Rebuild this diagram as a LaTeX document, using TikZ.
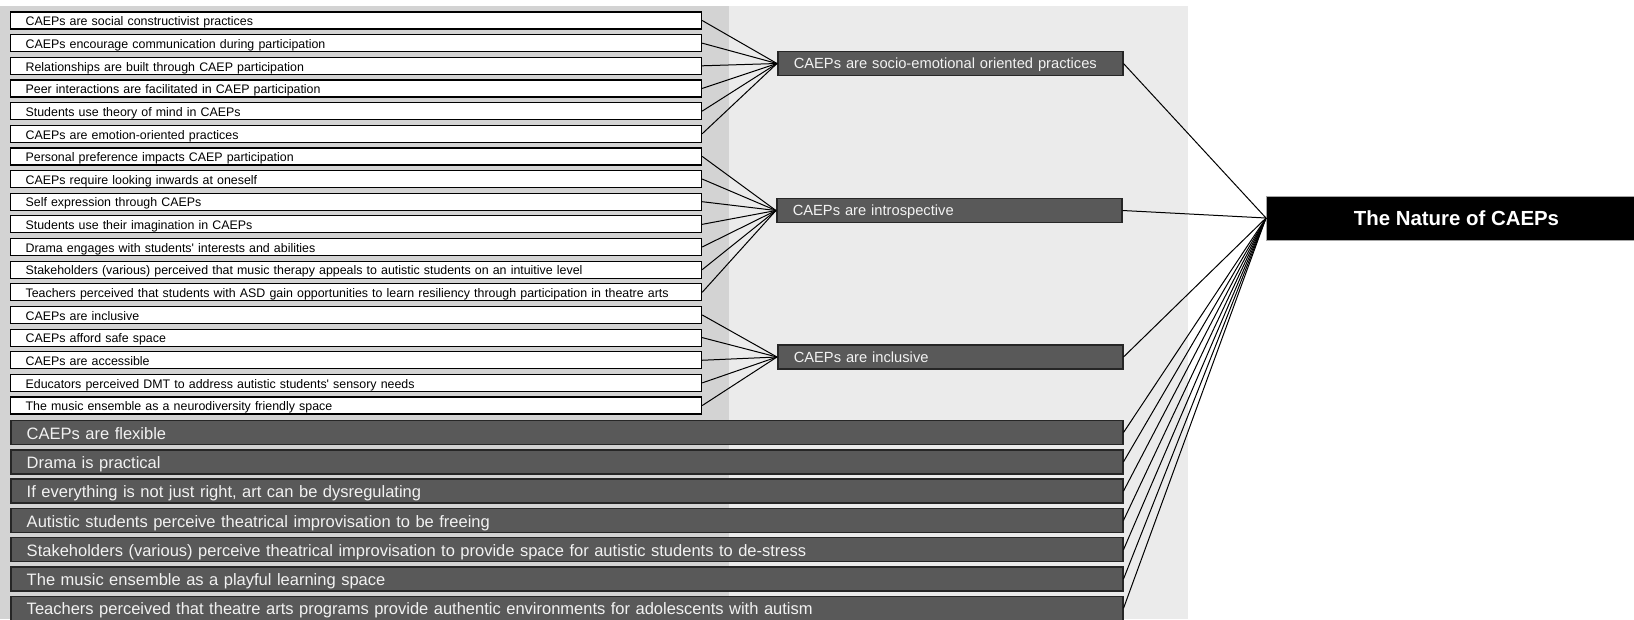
\documentclass[tikz,border=0pt]{standalone}
\usepackage{fontspec}
\setmainfont{Liberation Sans}
\usepackage{tikz}
\definecolor{panelgray}{HTML}{EBEBEB}
\definecolor{codegray}{HTML}{D3D3D3}
\definecolor{themefill}{HTML}{595959}
\definecolor{themeborder}{HTML}{262626}
\definecolor{themetext}{HTML}{F2F2F2}

\begin{document}
\begin{tikzpicture}[x=1pt,y=-1pt,
    codebox/.style={draw=black,fill=white,line width=1.2pt,anchor=west,
      inner xsep=15pt,inner ysep=0pt,text width=661pt,minimum height=17pt,
      text height=10.5pt,text depth=0pt,align=left,font=\fontsize{12.4}{13}\selectfont},
    themebox/.style={draw=themeborder,fill=themefill,line width=1.5pt,anchor=west,
      inner xsep=16pt,inner ysep=0pt,minimum height=24pt,text depth=0pt,align=left,text=themetext},
    link/.style={line width=1pt}]
    \useasboundingbox (0,0) rectangle (1634,619);
    % background panels
    \fill[panelgray] (0,6) rectangle (1188,619);
    \fill[codegray] (0,6) rectangle (729,619);

    % codes
    \foreach \txt [count=\i] in {
      CAEPs are social constructivist practices,
      CAEPs encourage communication during participation,
      Relationships are built through CAEP participation,
      Peer interactions are facilitated in CAEP participation,
      Students use theory of mind in CAEPs,
      CAEPs are emotion-oriented practices,
      Personal preference impacts CAEP participation,
      CAEPs require looking inwards at oneself,
      Self expression through CAEPs,
      Students use their imagination in CAEPs,
      Drama engages with students\textquotesingle{} interests and abilities,
      Stakeholders (various) perceived that music therapy appeals to autistic students on an intuitive level,
      Teachers perceived that students with ASD gain opportunities to learn resiliency through participation in theatre arts,
      CAEPs are inclusive,
      CAEPs afford safe space,
      CAEPs are accessible,
      Educators perceived DMT to address autistic students\textquotesingle{} sensory needs,
      The music ensemble as a neurodiversity friendly space}
      \node[codebox] (s\i) at (10,{20.5+22.65*(\i-1)}) {\txt};

    % sub-themes
    \node[themebox,text width=313pt,text height=10.5pt,font=\fontsize{14.7}{17}\selectfont] (socio) at (777,63.5) {CAEPs are socio-emotional oriented practices};
    \node[themebox,text width=313pt,text height=10.5pt,font=\fontsize{14.7}{17}\selectfont] (intro) at (776,210.5) {CAEPs are introspective};
    \node[themebox,text width=313pt,text height=10.5pt,font=\fontsize{14.7}{17}\selectfont] (incl) at (777,357) {CAEPs are inclusive};

    % themes on their own
    \foreach \txt [count=\j] in {
      CAEPs are flexible,
      Drama is practical,
      {If everything is not just right, art can be dysregulating},
      Autistic students perceive theatrical improvisation to be freeing,
      Stakeholders (various) perceive theatrical improvisation to provide space for autistic students to de-stress,
      The music ensemble as a playful learning space,
      Teachers perceived that theatre arts programs provide authentic environments for adolescents with autism}
      \node[themebox,text width=1080pt,text height=13.2pt,font=\fontsize{16.5}{19}\selectfont] (b\j) at (10,{432.5+29.3*(\j-1)}) {\txt};

    % main theme
    \node[anchor=west,fill=black,draw=black!35,line width=1pt,minimum width=380pt,minimum height=44pt,
      text height=14.6pt,text depth=0pt,text=white,font=\bfseries\fontsize{20.4}{24}\selectfont] (nature) at (1266,218) {The Nature of CAEPs};

    % links
    \foreach \i in {1,...,6} \draw[link] (s\i.east) -- (socio.west);
    \foreach \i in {7,...,13} \draw[link] (s\i.east) -- (intro.west);
    \foreach \i in {14,...,18} \draw[link] (s\i.east) -- (incl.west);
    \foreach \n in {socio,intro,incl} \draw[link] (\n.east) -- (nature.west);
    \foreach \j in {1,...,7} \draw[link] (b\j.east) -- (nature.west);
  \end{tikzpicture}
\end{document}
